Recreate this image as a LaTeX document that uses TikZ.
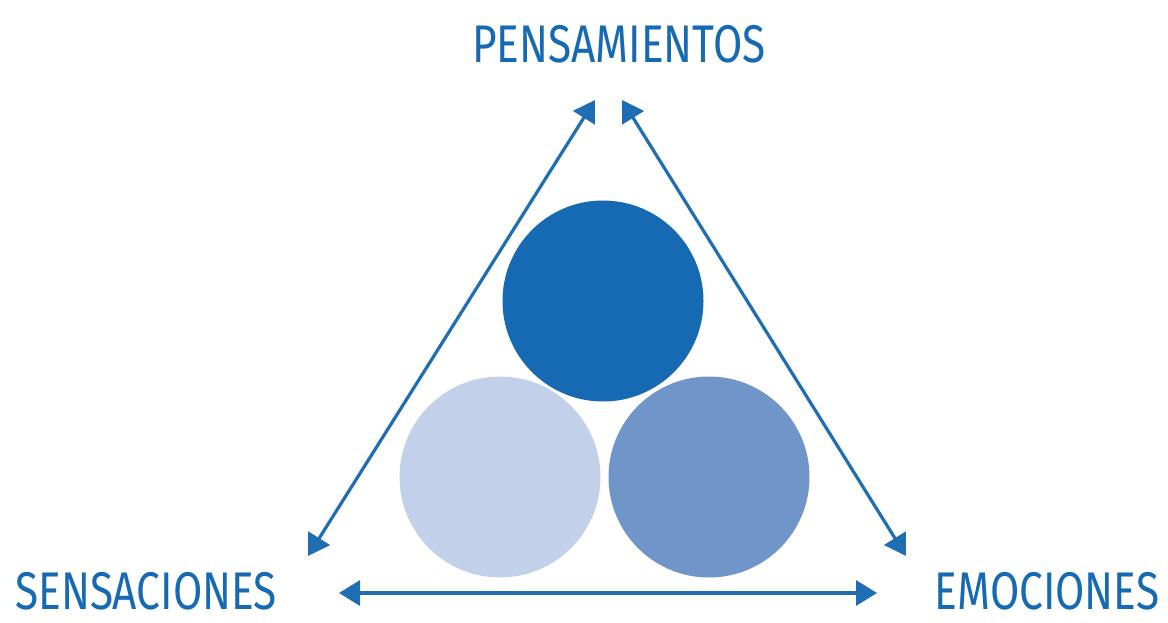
\documentclass[tikz,border=0pt]{standalone}
\usepackage{fontspec}
\usepackage{xcolor}
\usetikzlibrary{arrows.meta,positioning}
\newfontfamily\manofont[FakeStretch=0.8]{Fira Sans}
\definecolor{azulosc}{HTML}{166AB3}
\definecolor{azulmed}{HTML}{7095C9}
\definecolor{azulcla}{HTML}{C2D1E9}
\definecolor{azulfl}{HTML}{1F6DB2}
\tikzset{
  circulo/.style  = {circle, minimum size=201pt, inner sep=0pt, draw=none},
  etiqueta/.style = {text=azulosc, font=\manofont\fontsize{53}{53}\selectfont,
                     inner sep=0pt},
  flecha/.style   = {{Triangle[length=21pt,width=25pt]}-{Triangle[length=21pt,width=25pt]},
                     line width=3.2pt, draw=azulfl},
}

\begin{document}
\begin{tikzpicture}[x=1pt, y=-1pt]
    \useasboundingbox (0,0) rectangle (1168,623);
    % --- circulos
    \node[circulo, fill=azulosc] (pens) at (603,301) {};
    \node[circulo, fill=azulcla] (sens) at (500,477) {};
    \node[circulo, fill=azulmed] (emoc) at (709,477) {};

    % --- etiquetas
    \node[etiqueta] (tpens) at (619,44) {PENSAMIENTOS};
    \node[etiqueta] (tsens) at (146,591) {SENSACIONES};
    \node[etiqueta] (temoc) at (1047,591) {EMOCIONES};

    % --- extremos de las flechas
    \coordinate (arrI) at (595,100);
    \coordinate (abaI) at (308,556);
    \coordinate (arrD) at (622,100);
    \coordinate (abaD) at (906,556);
    \coordinate (izq) at (339,593);
    \coordinate (der) at (877,593);

    % --- flechas
    \draw[flecha] (arrI) -- (abaI);
    \draw[flecha] (arrD) -- (abaD);
    \draw[flecha] (izq) -- (der);
  \end{tikzpicture}
\end{document}
